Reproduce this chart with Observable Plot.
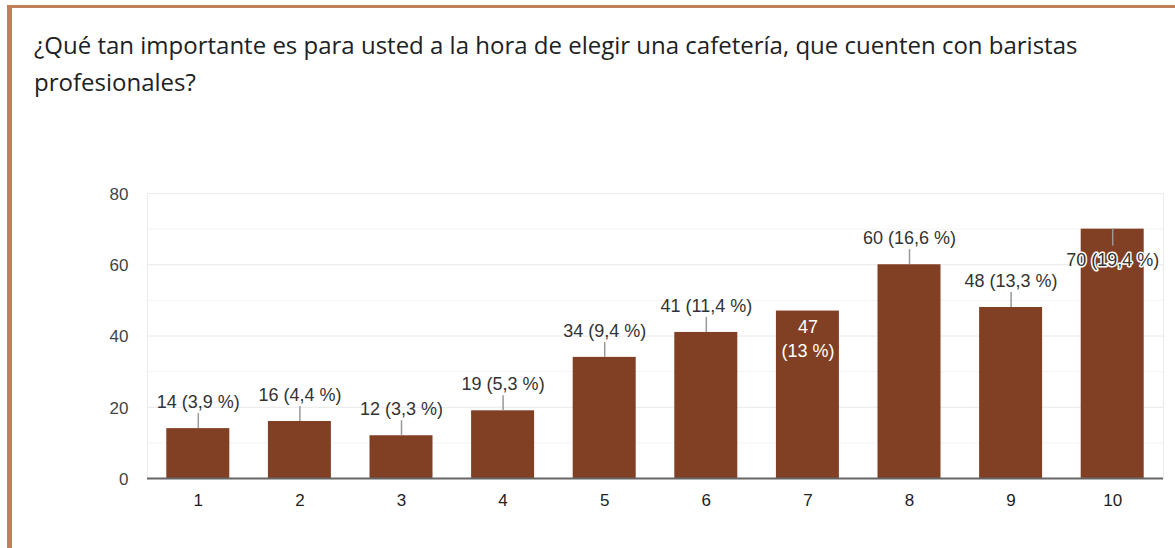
<!DOCTYPE html>
<html>
<head>
<meta charset="utf-8">
<script src="https://cdn.jsdelivr.net/npm/d3@7"></script>
<script src="https://cdn.jsdelivr.net/npm/@observablehq/plot@0.6"></script>
<style>
  html, body { margin: 0; padding: 0; background: #fff; }
  #page { position: relative; width: 1175px; height: 548px; overflow: hidden; }
  #frame { position: absolute; left: 7px; top: 5px; right: -10px; bottom: -10px;
           border-top: 3px solid #c17f5b; border-left: 5px solid #c17f5b; }
  #title { position: absolute; left: 34px; top: 26px; font-family: "Open Sans", Roboto, sans-serif;
           font-size: 24px; line-height: 37px; color: #202124; white-space: nowrap; }
  #chart { position: absolute; left: 0; top: 100px; }
</style>
</head>
<body>
<div id="page">
  <div id="frame"></div>
  <div id="title">¿Qué tan importante es para usted a la hora de elegir una cafetería, que cuenten con baristas<br>profesionales?</div>
  <div id="chart"></div>
</div>
<script>
const categories = ["1", "2", "3", "4", "5", "6", "7", "8", "9", "10"];
const counts = [14, 16, 12, 19, 34, 41, 47, 60, 48, 70];
const percents = ["3,9", "4,4", "3,3", "5,3", "9,4", "11,4", "13", "16,6", "13,3", "19,4"];
const yTicks = [0, 20, 40, 60, 80];
const yMinor = [10, 30, 50, 70];

const data = categories.map((c, i) => ({cat: c, count: counts[i], pct: percents[i]}));
const whiteInside = new Set(["7"]);
const haloInside = new Set(["10"]);
const above = data.filter(d => !whiteInside.has(d.cat) && !haloInside.has(d.cat));
const inWhite = data.filter(d => whiteInside.has(d.cat));
const inHalo = data.filter(d => haloInside.has(d.cat));
const LFS = 18;
const TFS = 17;

const chart = Plot.plot({
  width: 1175,
  height: 448,
  marginTop: 93,
  marginBottom: 70,
  marginLeft: 147,
  marginRight: 12,
  style: {fontFamily: "'Liberation Sans', Arial, sans-serif", fontSize: "17px", background: "transparent"},
  x: {domain: categories, paddingInner: 0.38, paddingOuter: 0.19, round: false, axis: null},
  y: {domain: [0, 80], axis: null},
  marks: [
    Plot.ruleY(yMinor, {stroke: "#f3f3f3", strokeWidth: 1}),
    Plot.ruleY(yTicks.filter(v => v > 0), {stroke: "#e8e8e8", strokeWidth: 1}),
    Plot.frame({stroke: "#ebebeb", strokeWidth: 1}),
    Plot.barY(data, {x: "cat", y: "count", fill: "#813f23"}),
    Plot.ruleX(above, {x: "cat", y1: "count", y2: "count", insetTop: -15, stroke: "#999", strokeWidth: 1.5}),
    Plot.ruleX(inHalo, {x: "cat", y1: "count", y2: "count", insetBottom: -17, stroke: "#999", strokeWidth: 1.5}),
    Plot.ruleY([0], {stroke: "#666", strokeWidth: 2}),
    Plot.axisY({ticks: yTicks, tickSize: 0, tickPadding: 19, label: null, fill: "#444", fontSize: TFS, dy: 1}),
    Plot.axisX({tickSize: 0, tickPadding: 15, label: null, fill: "#222", fontSize: TFS}),
    Plot.text(above, {x: "cat", y: "count", text: d => `${d.count} (${d.pct} %)`, dy: -26.5, fill: "#333", fontSize: LFS}),
    Plot.text(inHalo, {x: "cat", y: "count", text: d => `${d.count} (${d.pct} %)`, dy: 31.5, fill: "#333", stroke: "white", strokeWidth: 3, fontSize: LFS}),
    Plot.text(inWhite, {x: "cat", y: "count", text: d => `${d.count}\n(${d.pct} %)`, dy: 26.5, lineHeight: 1.33, fill: "white", fontSize: LFS})
  ]
});
document.getElementById("chart").appendChild(chart);
</script>
</body>
</html>
